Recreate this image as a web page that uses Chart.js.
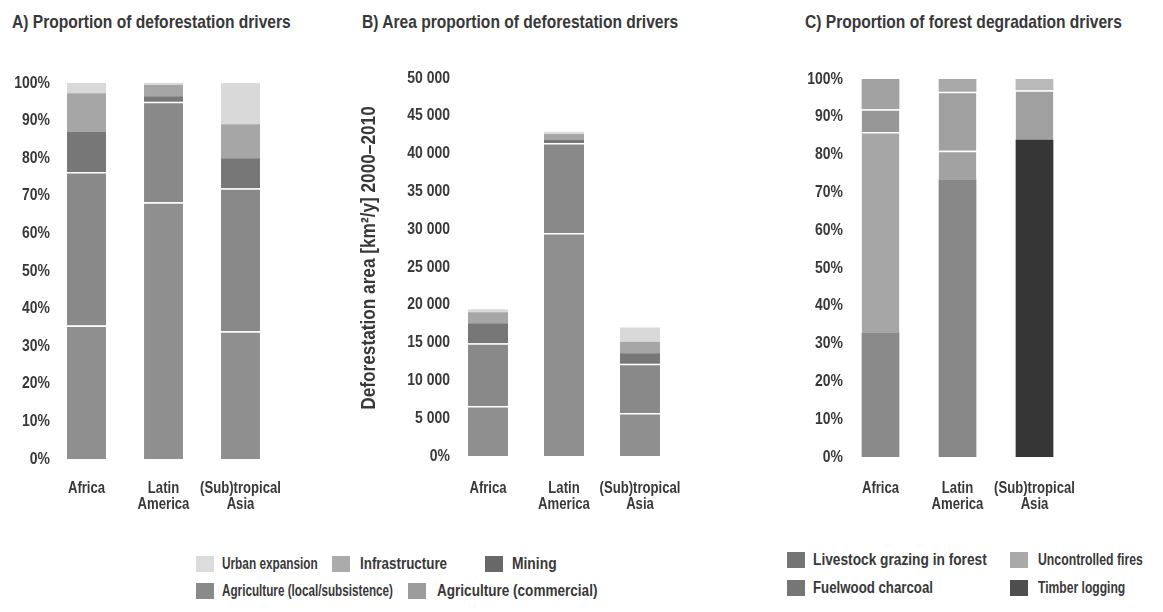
<!DOCTYPE html>
<html>
<head>
<meta charset="utf-8">
<script src="https://cdn.jsdelivr.net/npm/chart.js@4.4.1/dist/chart.umd.min.js"></script>
<style>
  html, body { margin: 0; padding: 0; background: #fff; }
  #stage {
    position: relative; width: 1163px; height: 612px; overflow: hidden;
    font-family: 'Liberation Sans', Arial, sans-serif;
    font-weight: bold; color: #383838;
  }
  canvas { position: absolute; top: 0; }
  .narrow { display: inline-block; transform: scaleX(0.82); transform-origin: 0 50%; white-space: nowrap; }
  .title { position: absolute; font-size: 19px; line-height: 20px; white-space: nowrap; }
  .swatch { position: absolute; width: 18px; height: 16px; }
  .keytext { position: absolute; font-size: 16px; line-height: 18px; white-space: nowrap; transform-origin: 0 50%; }
</style>
</head>
<body>
<div id="stage">
  <div class="title" style="left:12px;top:12px"><span class="narrow">A) Proportion of deforestation drivers</span></div>
  <div class="title" style="left:362px;top:12px"><span class="narrow">B) Area proportion of deforestation drivers</span></div>
  <div class="title" style="left:805px;top:12px"><span class="narrow">C) Proportion of forest degradation drivers</span></div>

  <canvas id="chartA" width="300" height="520" style="left:0"></canvas>
  <canvas id="chartB" width="340" height="520" style="left:355px"></canvas>
  <canvas id="chartC" width="300" height="520" style="left:790px"></canvas>

  <div id="legendA"></div>
  <div id="legendC"></div>
</div>

<script>
// Regions (multi-line category labels)
const regions = [['Africa'], ['Latin', 'America'], ['(Sub)tropical', 'Asia']];

// A) share of deforestation by driver (%)
const shareCommercial     = [35.5, 68.3, 34];
const shareLocal          = [40.8, 26.7, 38];
const shareMining         = [10.7, 1.5, 8];
const shareInfrastructure = [10.3, 3.0, 9];
const shareUrban          = [2.7, 0.5, 11];

// B) deforestation area by driver (km²/y, 2000–2010)
const areaCommercial     = [6600, 29500, 5700];
const areaLocal          = [8300, 11900, 6500];
const areaMining         = [2650, 400, 1400];
const areaInfrastructure = [1450, 800, 1500];
const areaUrban          = [400, 300, 1900];

// C) share of forest degradation by driver (%)
const shareTimber    = [33, 73.5, 84];
const shareFuelwood  = [53, 7.5, 0];
const shareFires     = [6, 15.6, 13];
const shareLivestock = [8, 3.4, 3];

// Tick labels
const percentTicks = ['0%', '10%', '20%', '30%', '40%', '50%', '60%', '70%', '80%', '90%', '100%'];
const areaTicks = ['0%', '5 000', '10 000', '15 000', '20 000', '25 000', '30 000', '35 000', '40 000', '45 000', '50 000'];

const TEXT = '#383838';
const FAMILY = "'Liberation Sans', Arial, sans-serif";
const SQUEEZE = 0.82;   // horizontal squeeze for the condensed lettering

// Condensed bold label drawn on the chart canvas
function narrowText(ctx, text, x, y, size, align, rotated) {
  ctx.save();
  ctx.translate(x, y);
  if (rotated) ctx.rotate(-Math.PI / 2);
  ctx.scale(SQUEEZE, 1);
  ctx.font = `bold ${size}px ${FAMILY}`;
  ctx.fillStyle = TEXT;
  ctx.textAlign = align;
  ctx.textBaseline = 'middle';
  ctx.fillText(text, 0, 0);
  ctx.restore();
}

// Axis lettering placed through the chart's own scales
const axisLettering = {
  id: 'axisLettering',
  afterDraw(chart, args, opts) {
    const { ctx, chartArea, scales } = chart;
    opts.tickLabels.forEach((t, i) => {
      const y = scales.y.getPixelForValue(i * opts.step);
      narrowText(ctx, t, chartArea.left + opts.yGap, y, 17, 'right');
    });
    chart.data.labels.forEach((lines, i) => {
      const x = scales.x.getPixelForValue(i);
      lines.forEach((line, k) => narrowText(ctx, line, x, opts.xLabelY + k * 16, 16, 'center'));
    });
    if (opts.yTitle) {
      narrowText(ctx, opts.yTitle.text, opts.yTitle.x, opts.yTitle.y, opts.yTitle.size, 'center', true);
    }
  }
};

// Grey tones for the drivers
const deforestationSeries = [
  { label: 'Agriculture (commercial)',        color: '#8f8f8f', sep: true,  key: '#9c9c9c' },
  { label: 'Agriculture (local/subsistence)', color: '#898989', sep: true,  key: '#8a8a8a' },
  { label: 'Mining',                          color: '#777777', sep: false, key: '#686868' },
  { label: 'Infrastructure',                  color: '#a6a6a6', sep: false, key: '#ababab' },
  { label: 'Urban expansion',                 color: '#d9d9d9', sep: false, key: '#dcdcdc' }
];

function stackedPanel(id, series, values, cfg) {
  return new Chart(document.getElementById(id), {
    type: 'bar',
    data: {
      labels: regions,
      datasets: series.map((s, i) => ({
        label: s.label,
        data: values[i],
        backgroundColor: s.color,
        borderColor: '#ffffff',
        borderWidth: s.sep ? { top: 1.5, right: 0, bottom: 0, left: 0 } : 0,
        borderSkipped: false,
        barPercentage: cfg.barPct,
        categoryPercentage: 1
      }))
    },
    plugins: [axisLettering],
    options: {
      responsive: false,
      animation: false,
      events: [],
      layout: { padding: cfg.pad },
      plugins: {
        legend: { display: false },
        tooltip: { enabled: false },
        axisLettering: { tickLabels: cfg.tickLabels, step: cfg.step, yGap: cfg.yGap, xLabelY: cfg.xLabelY, yTitle: cfg.yTitle }
      },
      scales: {
        x: {
          stacked: true,
          grid: { display: false, drawTicks: false },
          border: { display: false },
          ticks: { display: false },
          afterFit: s => { s.height = cfg.xH; }
        },
        y: {
          stacked: true,
          min: 0, max: cfg.max,
          grid: { display: false, drawTicks: false },
          border: { display: false },
          ticks: { display: false, stepSize: cfg.step },
          afterFit: s => { s.width = cfg.yW; }
        }
      }
    }
  });
}

// A) proportion of deforestation drivers
stackedPanel('chartA', deforestationSeries,
  [shareCommercial, shareLocal, shareMining, shareInfrastructure, shareUrban],
  { barPct: 0.506, max: 100, step: 10, tickLabels: percentTicks,
    yW: 48, yGap: 2, xH: 55, xLabelY: 489,
    pad: { left: 0, right: 21, top: 83, bottom: 6 } });

// B) area of deforestation by driver
stackedPanel('chartB', deforestationSeries,
  [areaCommercial, areaLocal, areaMining, areaInfrastructure, areaUrban],
  { barPct: 0.526, max: 50000, step: 5000, tickLabels: areaTicks,
    yW: 95, yGap: 0, xH: 58, xLabelY: 489,
    pad: { left: 0, right: 17, top: 78, bottom: 6 },
    yTitle: { text: 'Deforestation area [km²/y] 2000–2010', x: 14, y: 258, size: 21 } });

// C) proportion of forest degradation drivers
const degradationSeries = [
  { label: 'Timber logging',              color: ['#8a8a8a', '#878787', '#363636'], sep: false, key: '#4e4e4e' },
  { label: 'Fuelwood charcoal',           color: ['#a6a6a6', '#a2a2a2', '#a2a2a2'], sep: true,  key: '#767676' },
  { label: 'Uncontrolled fires',          color: ['#979797', '#a0a0a0', '#a0a0a0'], sep: true,  key: '#a9a9a9' },
  { label: 'Livestock grazing in forest', color: ['#a2a2a2', '#a9a9a9', '#b9b9b9'], sep: false, key: '#747474' }
];
stackedPanel('chartC', degradationSeries,
  [shareTimber, shareFuelwood, shareFires, shareLivestock],
  { barPct: 0.49, max: 100, step: 10, tickLabels: percentTicks,
    yW: 52, yGap: 1, xH: 56, xLabelY: 489,
    pad: { left: 0, right: 17, top: 79, bottom: 7 } });

// HTML legends: swatch at sx, text from tx to te (squeezed to that span)
function addKeys(hostId, items) {
  const host = document.getElementById(hostId);
  items.forEach(it => {
    const sw = document.createElement('div');
    sw.className = 'swatch';
    sw.style.background = it.color;
    sw.style.left = it.sx + 'px';
    sw.style.top = (it.y - 8) + 'px';
    host.appendChild(sw);
    const tx = document.createElement('div');
    tx.className = 'keytext';
    tx.textContent = it.label;
    tx.style.left = it.tx + 'px';
    tx.style.top = (it.y - 9) + 'px';
    host.appendChild(tx);
    const w = tx.offsetWidth;
    tx.style.transform = `scaleX(${((it.te - it.tx) / w).toFixed(3)})`;
  });
}
const dk = Object.fromEntries(deforestationSeries.map(s => [s.label, s.key]));
addKeys('legendA', [
  { label: 'Urban expansion', color: dk['Urban expansion'], sx: 196, tx: 222, te: 318, y: 564 },
  { label: 'Infrastructure', color: dk['Infrastructure'], sx: 332, tx: 360, te: 447, y: 564 },
  { label: 'Mining', color: dk['Mining'], sx: 485, tx: 512, te: 557, y: 564 },
  { label: 'Agriculture (local/subsistence)', color: dk['Agriculture (local/subsistence)'], sx: 196, tx: 222, te: 393, y: 591 },
  { label: 'Agriculture (commercial)', color: dk['Agriculture (commercial)'], sx: 408, tx: 437, te: 597, y: 591 }
]);
const gk = Object.fromEntries(degradationSeries.map(s => [s.label, s.key]));
addKeys('legendC', [
  { label: 'Livestock grazing in forest', color: gk['Livestock grazing in forest'], sx: 787, tx: 813, te: 987, y: 560 },
  { label: 'Uncontrolled fires', color: gk['Uncontrolled fires'], sx: 1010, tx: 1038, te: 1143, y: 560 },
  { label: 'Fuelwood charcoal', color: gk['Fuelwood charcoal'], sx: 787, tx: 813, te: 933, y: 588 },
  { label: 'Timber logging', color: gk['Timber logging'], sx: 1010, tx: 1038, te: 1125, y: 588 }
]);
</script>
</body>
</html>
